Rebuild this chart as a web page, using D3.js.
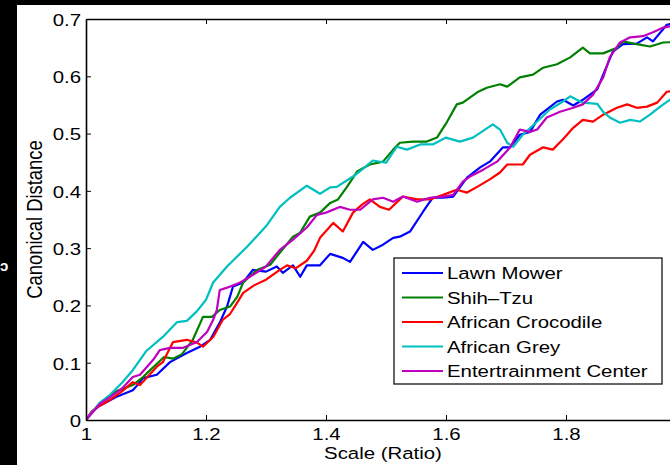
<!DOCTYPE html>
<html>
<head>
<meta charset="utf-8">
<script src="https://cdn.jsdelivr.net/npm/d3@7/dist/d3.min.js"></script>
<style>
  html, body { margin: 0; padding: 0; background: #000; }
  svg { display: block; }
  text { font-family: "Liberation Sans", Arial, Helvetica, sans-serif; fill: #000; }
</style>
</head>
<body>
<svg id="chart" width="670" height="465"></svg>
<script>
// Scale ratio vs. canonical distance, one curve per object class
const seriesNames = ["Lawn Mower", "Shih\u2013Tzu", "African Crocodile", "African Grey", "Entertrainment Center"];
const seriesColors = ["#0000ff", "#008000", "#ff0000", "#00bfbf", "#bf00bf"];

const xTicks = [1, 1.2, 1.4, 1.6, 1.8, 2];
const xTickLabels = ["1", "1.2", "1.4", "1.6", "1.8", ""];
const yTicks = [0, 0.1, 0.2, 0.3, 0.4, 0.5, 0.6, 0.7];
const yTickLabels = ["0", "0.1", "0.2", "0.3", "0.4", "0.5", "0.6", "0.7"];

// [scale ratio, canonical distance]
const lawnMower = [[1.00,0],[1.01,0.015],[1.023,0.025],[1.05,0.04],[1.078,0.052],[1.085,0.06],[1.095,0.073],[1.118,0.079],[1.14,0.101],[1.168,0.117],[1.19,0.128],[1.207,0.14],[1.223,0.17],[1.235,0.198],[1.245,0.233],[1.262,0.24],[1.278,0.262],[1.30,0.259],[1.318,0.268],[1.328,0.257],[1.345,0.27],[1.357,0.25],[1.368,0.27],[1.39,0.27],[1.407,0.29],[1.428,0.283],[1.44,0.276],[1.462,0.311],[1.478,0.297],[1.495,0.306],[1.512,0.318],[1.523,0.32],[1.54,0.329],[1.562,0.364],[1.578,0.388],[1.595,0.388],[1.612,0.39],[1.635,0.423],[1.657,0.441],[1.673,0.451],[1.695,0.476],[1.707,0.476],[1.723,0.498],[1.74,0.503],[1.757,0.533],[1.785,0.556],[1.795,0.559],[1.812,0.549],[1.828,0.559],[1.852,0.577],[1.862,0.603],[1.878,0.643],[1.895,0.656],[1.918,0.657],[1.935,0.668],[1.945,0.661],[1.968,0.69],[1.99,0.695]];

const shihTzu = [[1.00,0],[1.023,0.03],[1.05,0.05],[1.078,0.061],[1.095,0.075],[1.107,0.087],[1.12,0.10],[1.13,0.11],[1.145,0.107],[1.16,0.115],[1.178,0.14],[1.195,0.18],[1.21,0.18],[1.223,0.192],[1.24,0.198],[1.252,0.215],[1.262,0.24],[1.285,0.262],[1.307,0.271],[1.323,0.292],[1.345,0.32],[1.357,0.327],[1.373,0.355],[1.39,0.362],[1.407,0.379],[1.42,0.385],[1.435,0.407],[1.452,0.434],[1.473,0.446],[1.495,0.451],[1.512,0.472],[1.523,0.484],[1.545,0.486],[1.568,0.486],[1.585,0.493],[1.602,0.521],[1.618,0.551],[1.628,0.554],[1.652,0.572],[1.668,0.58],[1.69,0.586],[1.702,0.582],[1.723,0.598],[1.745,0.603],[1.762,0.615],[1.785,0.621],[1.807,0.633],[1.828,0.65],[1.84,0.64],[1.862,0.64],[1.885,0.65],[1.895,0.661],[1.918,0.656],[1.94,0.652],[1.962,0.659],[1.99,0.66]];

const africanCrocodile = [[1.00,0],[1.01,0.015],[1.023,0.025],[1.04,0.035],[1.06,0.05],[1.078,0.066],[1.09,0.061],[1.118,0.093],[1.128,0.101],[1.145,0.136],[1.168,0.14],[1.185,0.135],[1.195,0.128],[1.212,0.145],[1.228,0.175],[1.24,0.185],[1.252,0.205],[1.262,0.222],[1.28,0.235],[1.30,0.245],[1.323,0.262],[1.335,0.27],[1.35,0.265],[1.368,0.278],[1.38,0.295],[1.39,0.318],[1.412,0.344],[1.428,0.329],[1.445,0.362],[1.46,0.376],[1.473,0.385],[1.49,0.372],[1.505,0.367],[1.528,0.39],[1.552,0.385],[1.573,0.385],[1.595,0.393],[1.618,0.402],[1.635,0.397],[1.652,0.407],[1.673,0.42],[1.69,0.432],[1.702,0.446],[1.728,0.446],[1.74,0.463],[1.762,0.476],[1.778,0.472],[1.795,0.49],[1.812,0.51],[1.828,0.524],[1.845,0.521],[1.862,0.533],[1.885,0.545],[1.902,0.551],[1.918,0.545],[1.935,0.547],[1.952,0.554],[1.968,0.573],[1.99,0.575]];

const africanGrey = [[1.00,0],[1.023,0.03],[1.04,0.044],[1.06,0.065],[1.078,0.087],[1.10,0.12],[1.128,0.145],[1.152,0.171],[1.168,0.173],[1.185,0.19],[1.20,0.21],[1.212,0.24],[1.235,0.268],[1.268,0.302],[1.30,0.338],[1.323,0.372],[1.34,0.388],[1.368,0.409],[1.39,0.395],[1.407,0.406],[1.418,0.407],[1.445,0.425],[1.46,0.437],[1.478,0.453],[1.50,0.449],[1.518,0.477],[1.535,0.472],[1.557,0.481],[1.578,0.481],[1.60,0.493],[1.623,0.486],[1.645,0.493],[1.678,0.516],[1.69,0.507],[1.702,0.484],[1.712,0.477],[1.728,0.498],[1.752,0.521],[1.773,0.542],[1.795,0.556],[1.807,0.565],[1.818,0.559],[1.828,0.554],[1.852,0.552],[1.862,0.538],[1.873,0.528],[1.89,0.519],[1.907,0.524],[1.923,0.521],[1.94,0.533],[1.957,0.547],[1.973,0.559],[1.99,0.565]];

const entertainmentCenter = [[1.00,0],[1.023,0.028],[1.04,0.04],[1.06,0.055],[1.078,0.075],[1.09,0.079],[1.112,0.105],[1.123,0.122],[1.14,0.126],[1.162,0.126],[1.185,0.136],[1.202,0.154],[1.212,0.175],[1.218,0.192],[1.223,0.227],[1.235,0.231],[1.257,0.24],[1.273,0.25],[1.30,0.268],[1.323,0.297],[1.345,0.315],[1.368,0.336],[1.385,0.358],[1.40,0.362],[1.423,0.372],[1.44,0.367],[1.457,0.367],[1.478,0.385],[1.495,0.388],[1.512,0.381],[1.528,0.39],[1.552,0.381],[1.573,0.388],[1.595,0.39],[1.612,0.393],[1.628,0.416],[1.64,0.425],[1.662,0.437],[1.685,0.451],[1.707,0.476],[1.723,0.507],[1.74,0.503],[1.752,0.507],[1.768,0.528],[1.79,0.538],[1.812,0.545],[1.828,0.551],[1.845,0.568],[1.862,0.598],[1.873,0.633],[1.89,0.659],[1.907,0.668],[1.928,0.67],[1.945,0.677],[1.962,0.685],[1.99,0.69]];

const seriesData = [lawnMower, shihTzu, africanCrocodile, africanGrey, entertainmentCenter];

// ---- layout ----
const W = 670, H = 465;
const plot = { left: 86, top: 19, right: 686, bottom: 420 };
const FS = 17, SX = 1.2; // label font size and horizontal stretch

const svg = d3.select("#chart");

// white page area (black border on left and top)
svg.append("rect").attr("x", 17).attr("y", 5).attr("width", W - 17).attr("height", H - 5).attr("fill", "#fff");
svg.append("text").attr("x", 0).attr("y", 271).style("fill", "#fff")
  .style("font-size", "15px").style("font-weight", "bold").text("\u0254");

const x = d3.scaleLinear().domain([1, 2]).range([plot.left, plot.right]);
const y = d3.scaleLinear().domain([0, 0.7]).range([plot.bottom, plot.top]);

svg.append("defs").append("clipPath").attr("id", "clip")
  .append("rect").attr("x", plot.left).attr("y", plot.top - 2)
  .attr("width", plot.right - plot.left).attr("height", plot.bottom - plot.top + 2);

// curves
const line = d3.line().x(d => x(d[0])).y(d => y(d[1]));
svg.append("g").attr("clip-path", "url(#clip)")
  .selectAll("path").data(seriesData).join("path")
  .attr("d", line)
  .attr("fill", "none")
  .attr("stroke", (d, i) => seriesColors[i])
  .attr("stroke-width", 2.2)
  .attr("stroke-linejoin", "round");

function styleAxis(g) {
  g.selectAll(".domain").attr("stroke", "#000").attr("stroke-width", 1.6);
  g.selectAll(".tick line").attr("stroke", "#000").attr("stroke-width", 1);
}

// bottom axis with inward ticks
const gx = svg.append("g").attr("transform", `translate(0,${plot.bottom})`)
  .call(d3.axisBottom(x).tickValues(xTicks).tickSize(-5).tickSizeOuter(0)
    .tickFormat((d, i) => xTickLabels[i]));
styleAxis(gx);
gx.selectAll(".tick text")
  .attr("x", null).attr("y", null).attr("dy", null)
  .attr("transform", `translate(0,20) scale(${SX},1)`)
  .attr("text-anchor", "middle")
  .style("font-size", FS + "px").attr("fill", "#000");

// top frame
const gt = svg.append("g").attr("transform", `translate(0,${plot.top})`)
  .call(d3.axisTop(x).tickValues(xTicks).tickSize(-5).tickSizeOuter(0).tickFormat(""));
styleAxis(gt);

// left axis
const gy = svg.append("g").attr("transform", `translate(${plot.left},0)`)
  .call(d3.axisLeft(y).tickValues(yTicks).tickSize(-5).tickSizeOuter(0)
    .tickFormat((d, i) => yTickLabels[i]));
styleAxis(gy);
gy.selectAll(".tick text")
  .attr("x", null).attr("y", null).attr("dy", null)
  .attr("transform", `translate(-5,6.3) scale(${SX},1)`)
  .attr("text-anchor", "end")
  .style("font-size", FS + "px").attr("fill", "#000");

// axis titles
svg.append("text")
  .attr("transform", `translate(383,459) scale(${SX},1)`)
  .attr("text-anchor", "middle").style("font-size", FS + "px")
  .text("Scale (Ratio)");

svg.append("text")
  .attr("transform", `translate(42,${(plot.top + plot.bottom) / 2}) scale(${SX},1) rotate(-90)`)
  .attr("text-anchor", "middle").style("font-size", "18.4px")
  .text("Canonical Distance");

// legend
const leg = { x: 394, y: 258, w: 268, h: 126, row0: 273, rowStep: 24.5 };
svg.append("rect").attr("x", leg.x).attr("y", leg.y).attr("width", leg.w).attr("height", leg.h)
  .attr("fill", "#fff").attr("stroke", "#000").attr("stroke-width", 1.2);
const items = svg.append("g").selectAll("g").data(seriesNames).join("g")
  .attr("transform", (d, i) => `translate(0,${leg.row0 + i * leg.rowStep})`);
items.append("line").attr("x1", 402).attr("x2", 443).attr("y1", 0).attr("y2", 0)
  .attr("stroke", (d, i) => seriesColors[i]).attr("stroke-width", 2.2);
items.append("text")
  .attr("transform", `translate(447,6.3) scale(${SX},1)`)
  .style("font-size", FS + "px")
  .text(d => d);
</script>
</body>
</html>
